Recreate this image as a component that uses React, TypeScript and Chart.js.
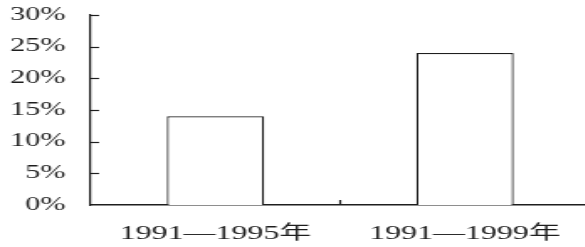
import React, { useEffect, useRef } from "react";
import { Chart, registerables } from "chart.js";

Chart.register(...registerables);

const categories = ["1991—1995年", "1991—1999年"];
const values = [14, 24];
const yTicks = [0, 5, 10, 15, 20, 25, 30];

const S = 1.68;
const W = Math.round(590 / S);
const H = 247;
const INK = "#1e1e1e";
const FONT = '"Liberation Serif", "Noto Sans CJK SC", serif';

const innerTicks = {
  id: "innerTicks",
  afterDraw(chart: any) {
    const { ctx, chartArea, scales } = chart;
    const y = scales.y;
    const x = scales.x;
    ctx.save();
    ctx.strokeStyle = INK;
    ctx.lineWidth = 1.2;
    y.ticks.forEach((t: any) => {
      if (t.value === 0) return;
      const py = Math.round(y.getPixelForValue(t.value)) + 0.5;
      ctx.beginPath();
      ctx.moveTo(chartArea.left, py);
      ctx.lineTo(chartArea.left + 5, py);
      ctx.stroke();
    });
    for (let i = 1; i < categories.length; i++) {
      const px = (x.getPixelForValue(i - 1) + x.getPixelForValue(i)) / 2;
      ctx.beginPath();
      ctx.moveTo(px, chartArea.bottom);
      ctx.lineTo(px, chartArea.bottom - 5);
      ctx.stroke();
    }
    ctx.restore();
  },
};

export default function App() {
  const ref = useRef<HTMLCanvasElement>(null);
  useEffect(() => {
    if (!ref.current) return;
    const chart = new Chart(ref.current, {
      type: "bar",
      data: {
        labels: categories,
        datasets: [
          {
            data: values,
            backgroundColor: "#ffffff",
            borderColor: INK,
            borderWidth: 1.2,
            barPercentage: 0.39,
            categoryPercentage: 1,
          },
        ],
      },
      options: {
        animation: false,
        responsive: false,
        maintainAspectRatio: false,
        devicePixelRatio: 1,
        layout: { padding: { top: 15, left: 0, right: 0, bottom: 0 } },
        plugins: { legend: { display: false }, tooltip: { enabled: false } },
        scales: {
          x: {
            grid: { display: false, drawTicks: false },
            border: { display: true, color: INK, width: 1.5 },
            ticks: {
              color: INK,
              padding: 17.5,
              font: { family: FONT, size: 19 },
              maxRotation: 0,
              autoSkip: false,
            },
            afterFit: (s: any) => {
              s.height = 42;
              s.paddingLeft = 0;
              s.paddingRight = 0;
            },
          },
          y: {
            min: 0,
            max: 30,
            afterBuildTicks: (axis: any) => {
              axis.ticks = yTicks.map((v) => ({ value: v }));
            },
            grid: { display: false, drawTicks: false },
            border: { display: true, color: INK, width: 1.2 },
            ticks: {
              color: INK,
              padding: 15,
              font: { family: FONT, size: 18 },
              callback: (v: any) => v + "%",
            },
            afterFit: (s: any) => {
              s.width = 54;
              s.paddingTop = 0;
              s.paddingBottom = 0;
            },
          },
        },
      },
      plugins: [innerTicks],
    });
    return () => chart.destroy();
  }, []);
  return (
    <div
      style={{
        position: "fixed",
        left: 0,
        top: 0,
        width: 585,
        height: 247,
        overflow: "hidden",
        background: "#fff",
      }}
    >
      <canvas
        ref={ref}
        width={W}
        height={H}
        style={{
          display: "block",
          width: W,
          height: H,
          transform: `scaleX(${S})`,
          transformOrigin: "0 0",
        }}
      />
    </div>
  );
}
